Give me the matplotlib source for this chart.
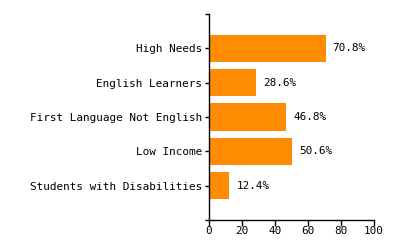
import matplotlib
matplotlib.use("Agg")
import matplotlib.pyplot as plt

categories = ["High Needs", "English Learners", "First Language Not English",
              "Low Income", "Students with Disabilities"]
values = [70.8, 28.6, 46.8, 50.6, 12.4]
xticks = [0, 20, 40, 60, 80, 100]

W, H = 400, 250
fig = plt.figure(figsize=(W / 100, H / 100), dpi=100)
ax = fig.add_axes([209 / W, 1 - 220 / H, (374 - 209) / W, (220 - 14) / H])

font = {"family": ["DejaVu Sans Mono"], "size": 7.9}
pos = list(range(len(categories)))
ax.barh(pos, values, height=0.8, color="#ff8c00")
ax.set_ylim(len(categories), -1)
ax.set_xlim(0, 100)
for p, v in zip(pos, values):
    ax.text(v + 4.2, p, f"{v}%", va="center", ha="left", fontdict=font)

ax.set_yticks(pos)
ax.set_yticklabels(categories, fontdict=font)
ax.set_yticks([-1, len(categories)], minor=True)
ax.set_xticks(xticks)
ax.set_xticklabels([str(t) for t in xticks], fontdict=font)
ax.tick_params(axis="y", which="both", length=3, width=1, pad=2)
ax.tick_params(axis="x", length=4, width=1, pad=0.5)
for s in ["top", "right"]:
    ax.spines[s].set_visible(False)
for s in ["left", "bottom"]:
    ax.spines[s].set_linewidth(1)

fig.savefig("out.png", dpi=100)
